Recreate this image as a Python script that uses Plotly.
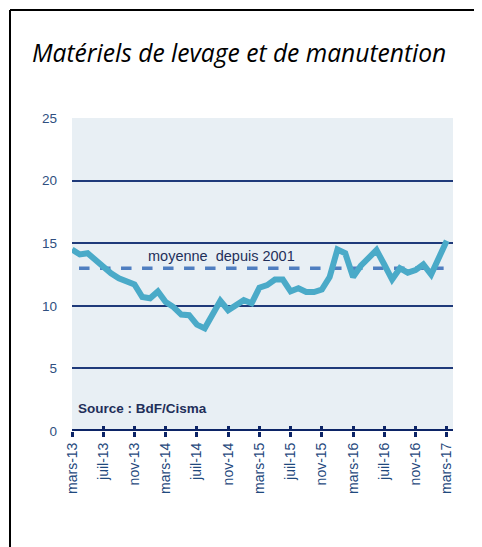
import plotly.graph_objects as go

months = ["mars-13","avr-13","mai-13","juin-13","juil-13","août-13","sept-13","oct-13","nov-13","déc-13","janv-14","févr-14",
          "mars-14","avr-14","mai-14","juin-14","juil-14","août-14","sept-14","oct-14","nov-14","déc-14","janv-15","févr-15",
          "mars-15","avr-15","mai-15","juin-15","juil-15","août-15","sept-15","oct-15","nov-15","déc-15","janv-16","févr-16",
          "mars-16","avr-16","mai-16","juin-16","juil-16","août-16","sept-16","oct-16","nov-16","déc-16","janv-17","févr-17",
          "mars-17"]
values = [14.5, 14.1, 14.2, 13.65, 13.1, 12.6, 12.2, 11.9, 11.7, 10.7, 10.6, 11.15,
          10.3, 9.9, 9.3, 9.25, 8.5, 8.2, 9.3, 10.4, 9.65, 10.1, 10.45, 10.2,
          11.45, 11.65, 12.1, 12.1, 11.15, 11.4, 11.1, 11.1, 11.3, 12.3, 14.5, 14.2,
          12.3, 13.2, 13.9, 14.45, 13.3, 12.1, 13.0, 12.65, 12.85, 13.3, 12.5, 13.9,
          15.2]
average_value = 13.0
average_label = "moyenne  depuis 2001"
source_label = "Source : BdF/Cisma"
title_text = "Matériels de levage et de manutention"
y_ticks = [0, 5, 10, 15, 20, 25]

x_idx = list(range(len(months)))
tick_idx = x_idx[::4]
tick_text = [months[i] for i in tick_idx]

navy = "#0c2466"
grid_col = "#1f3a7a"
label_col = "#1f497d"

# page body has an 8px margin: figure origin is at page (8, 8)
W, H = 474, 539
L, T, R, B = 64, 110, 29, 116
pw, ph = W - L - R, H - T - B

fig = go.Figure()
fig.add_trace(go.Scatter(x=[0.9, 47.6], y=[average_value, average_value], mode="lines",
                         line=dict(color="#4f7ec0", width=3.5, dash="dash"), hoverinfo="skip"))
fig.add_trace(go.Scatter(x=x_idx, y=values, mode="lines",
                         line=dict(color="#4aaac8", width=6), hoverinfo="skip"))

fig.add_annotation(x=19.2, y=14.0, text=average_label, showarrow=False,
                   font=dict(family="Liberation Sans", size=14.5, color="#1f2f5a"))
fig.add_annotation(x=0.5, y=1.8, text="<b>" + source_label + "</b>", showarrow=False, xanchor="left",
                   font=dict(family="Liberation Sans", size=13.5, color="#1f2f5a"))

fig.update_layout(
    width=W, height=H,
    margin=dict(l=L, r=R, t=T, b=B),
    paper_bgcolor="white",
    plot_bgcolor="#e8eff4",
    showlegend=False,
    xaxis=dict(range=[0, 48.8], tickvals=tick_idx, ticktext=tick_text, tickangle=-90,
               showgrid=False, zeroline=False, showline=False,
               ticks="outside", ticklen=5, tickwidth=3, tickcolor=navy,
               tickfont=dict(family="Liberation Sans", size=14, color=label_col)),
    xaxis2=dict(range=[0, 48.8], tickvals=tick_idx, overlaying="x", side="bottom",
                showticklabels=False, showgrid=False, zeroline=False, showline=False,
                ticks="inside", ticklen=5, tickwidth=3, tickcolor=navy, anchor="y"),
    yaxis=dict(range=[0, 25], tickvals=y_ticks, showgrid=True, gridcolor=grid_col, gridwidth=1.5,
               zeroline=False, showline=False, ticks="", ticklabelstandoff=14,
               tickfont=dict(family="Liberation Sans", size=13.5, color="#2f4f80")),
    title=dict(text="<i>" + title_text + "</i>", x=24 / W, xanchor="left", y=1 - 45 / H, yanchor="middle",
               font=dict(family="Open Sans", size=24.6, color="black")),
)
fig.add_trace(go.Scatter(x=[0], y=[0], xaxis="x2", mode="markers", marker=dict(opacity=0), hoverinfo="skip"))

fig.add_shape(type="line", xref="paper", yref="y", x0=0, x1=1, y0=0, y1=0,
              line=dict(color=navy, width=4), layer="above")
fx = (2 - L) / pw
fy = (H - B - 2) / ph
fig.add_shape(type="line", xref="paper", yref="paper", x0=fx, x1=fx,
              y0=-1, y1=fy, line=dict(color="black", width=2))
fig.add_shape(type="line", xref="paper", yref="paper", x0=fx, x1=2,
              y0=fy, y1=fy, line=dict(color="black", width=2))

fig.write_html("out.html")
